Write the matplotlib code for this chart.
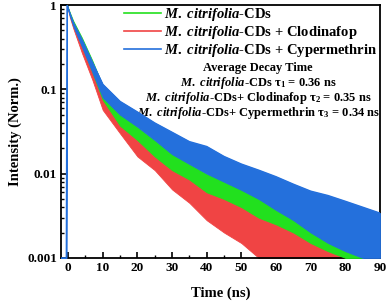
import matplotlib
matplotlib.use('Agg')
from matplotlib import pyplot as plt
from matplotlib.ticker import MultipleLocator, LogLocator, NullFormatter, FixedLocator, FixedFormatter

# time axis (ns) and read-off band edges (upper / lower) of each decay curve
time = [-2, -0.5, -0.3, 0.5, 1.5, 4, 7, 10, 15, 20, 25, 30, 35, 40, 45,
        50, 55, 60, 65, 70, 75, 80, 85, 90]

cyper_hi = [0.001, 0.001, 1.0, 0.80, 0.62, 0.39, 0.21, 0.115, 0.072, 0.054, 0.040, 0.031,
            0.024, 0.021, 0.016, 0.013, 0.011, 0.0092, 0.0075, 0.0062, 0.0055, 0.0047,
            0.0040, 0.0034]
cyper_lo = [0.001, 0.001, 1.0, 0.75, 0.56, 0.32, 0.16, 0.080, 0.050, 0.036, 0.025, 0.017,
            0.013, 0.010, 0.008, 0.0064, 0.0050, 0.0037, 0.0028, 0.0020, 0.0015, 0.0012,
            0.0010, 0.0010]

time_cds = time[2:-1]
cds_hi = [1.0, 0.82, 0.65, 0.41, 0.22, 0.11, 0.055, 0.036, 0.025, 0.018, 0.013, 0.010,
          0.0085, 0.0070, 0.0055, 0.0045, 0.0035, 0.0030, 0.0025, 0.0020, 0.0015]
cds_lo = [1.0, 0.77, 0.58, 0.33, 0.16, 0.075, 0.037, 0.025, 0.016, 0.011, 0.0085, 0.006,
          0.0050, 0.0040, 0.0030, 0.0025, 0.0020, 0.0015, 0.0012, 0.0010, 0.0010]

clodi_hi = [1.0, 0.78, 0.60, 0.35, 0.18, 0.085, 0.046, 0.033, 0.022, 0.015, 0.0095, 0.0073,
            0.0060, 0.0053, 0.0045, 0.0037, 0.0030, 0.0025, 0.0020, 0.0014, 0.0011]
clodi_lo = [1.0, 0.72, 0.53, 0.27, 0.13, 0.057, 0.030, 0.016, 0.011, 0.0065, 0.0045, 0.0028,
            0.0020, 0.0015, 0.0010, 0.0010, 0.0010, 0.0010, 0.0010, 0.0010, 0.0010]

labels = [r'$\mathit{M.\ citrifolia}$-CDs',
          r'$\mathit{M.\ citrifolia}$-CDs + Clodinafop',
          r'$\mathit{M.\ citrifolia}$-CDs + Cypermethrin']
decay_lines = ['Average Decay Time',
               r'$\mathit{M.\ citrifolia}$-CDs τ$_1$ = 0.36 ns',
               r'$\mathit{M.\ citrifolia}$-CDs+ Clodinafop τ$_2$ = 0.35 ns',
               r'$\mathit{M.\ citrifolia}$-CDs+ Cypermethrin τ$_3$ = 0.34 ns']

GREEN = '#22e01e'
RED = '#f04444'
BLUE = '#2470dc'

plt.rcParams['font.family'] = 'Liberation Serif'
plt.rcParams['font.weight'] = 'bold'
plt.rcParams['mathtext.fontset'] = 'custom'
plt.rcParams['mathtext.rm'] = 'Liberation Serif:bold'
plt.rcParams['mathtext.bf'] = 'Liberation Serif:bold'
plt.rcParams['mathtext.it'] = 'Liberation Serif:italic:bold'

fig = plt.figure(figsize=(3.87, 3.02), dpi=100)
ax = fig.add_axes([0.158, 0.146, 0.824, 0.837])

ax.fill_between(time_cds, clodi_lo, clodi_hi, color=RED, lw=0.6, zorder=2)
ax.fill_between(time_cds, cds_lo, cds_hi, color=GREEN, lw=0.6, zorder=3)
ax.fill_between(time, cyper_lo, cyper_hi, color=BLUE, lw=0.6, zorder=4)
ax.plot(time, cyper_hi, color=BLUE, lw=1, zorder=4)

handles = [plt.Line2D([], [], color=c, lw=1.2) for c in (GREEN, RED, BLUE)]
ax.legend(handles, labels, loc='upper right', bbox_to_anchor=(1.018, 1.03), frameon=False,
          fontsize=10.5, handlelength=2.6, handletextpad=0.15, labelspacing=0.05,
          borderaxespad=0.2)

for i, line in enumerate(decay_lines):
    ax.text(0.618, 0.751 - i * 0.059, line, transform=ax.transAxes, ha='center',
            va='center', fontsize=9.0, fontweight='bold')

ax.set_yscale('log')
ax.set_xlim(-2, 90)
ax.set_ylim(0.001, 1)
ax.xaxis.set_major_locator(MultipleLocator(10))
ax.xaxis.set_minor_locator(MultipleLocator(5))
ax.yaxis.set_major_locator(FixedLocator([0.001, 0.01, 0.1, 1]))
ax.yaxis.set_major_formatter(FixedFormatter(['0.001', '0.01', '0.1', '1']))
ax.yaxis.set_minor_locator(LogLocator(base=10, subs=range(2, 10)))
ax.yaxis.set_minor_formatter(NullFormatter())
ax.tick_params(which='major', direction='in', length=4, width=1.2, labelsize=9.5, pad=3)
ax.tick_params(which='minor', direction='in', length=2, width=1)
for sp in ax.spines.values():
    sp.set_linewidth(1.3)

ax.set_xlabel('Time (ns)', fontsize=10.5, fontweight='bold', labelpad=9)
ax.set_ylabel('Intensity (Norm.)', fontsize=10.5, fontweight='bold', labelpad=4)

fig.savefig('out.png', dpi=100)
